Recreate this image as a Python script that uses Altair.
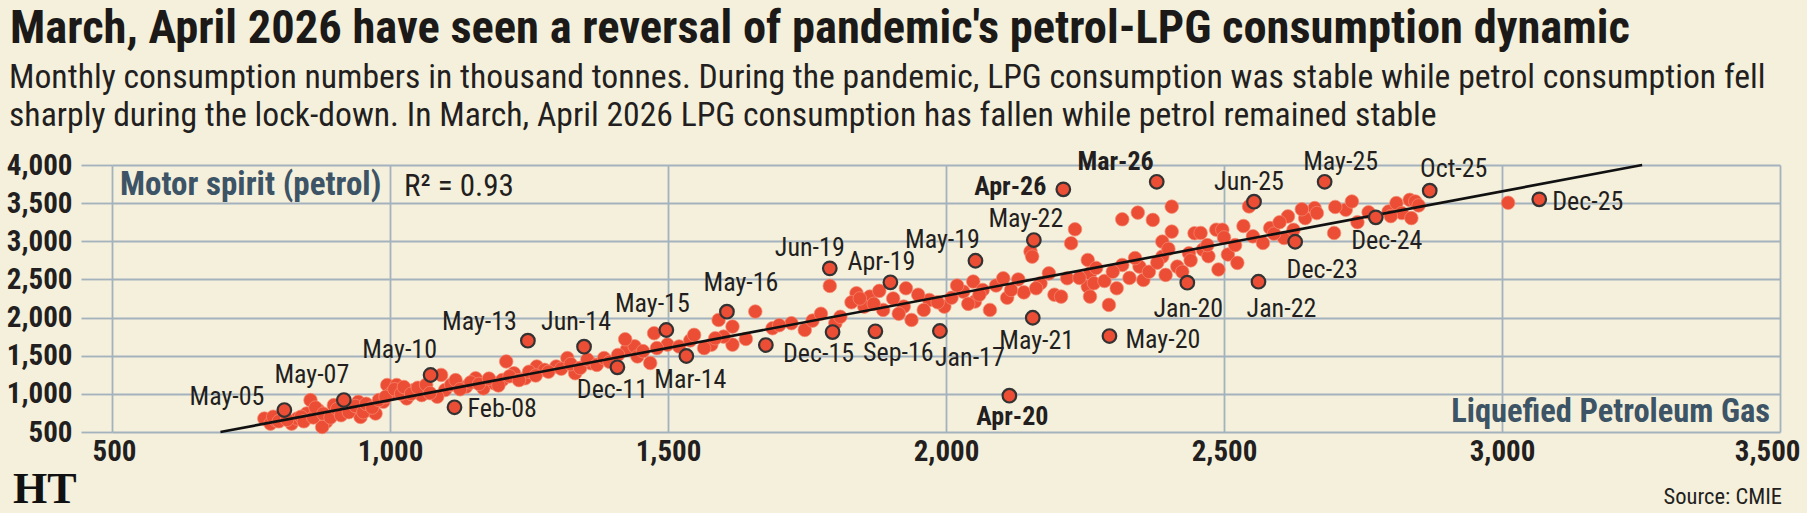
import altair as alt
import pandas as pd

FONT = "Roboto Condensed, sans-serif"
BG = "#f4f0dc"
GRID = "#a3b2bd"
RED = "#ec4d35"
INK = "#231f20"
SLATE = "#3d5466"

# Monthly consumption, thousand tonnes: LPG (x) against motor spirit / petrol (y)
lpg = [
    # 2005-2013 band
    774, 785, 795, 809, 823, 833, 857, 850, 871, 885, 878, 899, 919, 933, 947, 961,
    943, 974, 988, 995, 1002, 1012, 1030, 1043, 1057, 1092, 1099, 1085, 1137, 1154,
    1168, 1188, 1209, 1202, 1223, 1243, 1264, 1278, 1299, 1319, 1333, 1361,
    790, 800, 815, 840, 845, 862, 866, 880, 893, 905, 912, 926, 938, 952, 957, 968,
    980, 992, 1008, 1020, 1025, 1038, 1050, 1065, 1072, 1110, 1118, 1126, 1145, 1160,
    1178, 1195, 1215, 1232, 1250, 1262, 1285, 1308, 1325, 1342, 1355, 1372,
    # 2013-2017
    1385, 1426, 1440, 1468, 1499, 1578, 1616, 1395, 1410, 1445, 1455, 1480, 1520,
    1540, 1565, 1600, 1640,
    1423, 1475, 1547, 1585, 1591, 1616, 1657, 1688, 1722, 1746, 1791, 1801, 1839,
    1863, 1853, 1887, 1928, 1924, 1938, 1970, 1997, 2031, 2049, 2052, 2066, 2079,
    1700, 1760, 1775, 1810, 1830, 1845, 1870, 1880, 1905, 1915, 1950, 1960, 1985,
    2010, 2020, 2040, 2060, 2090, 2110, 2130, 2140, 2170, 2185, 2195,
    # 2018 onwards
    2103, 2117, 2152, 2155, 2162, 2207, 2218, 2225, 2232, 2255, 2259, 2255, 2266,
    2259, 2293, 2307, 2317, 2345, 2372, 2317, 2348, 2355, 2389, 2389, 2395, 2406,
    2406, 2416, 2437, 2447, 2240, 2270, 2285, 2300, 2330, 2340, 2365, 2380, 2400,
    2425, 2440,
    2458, 2486, 2497, 2462, 2472, 2490, 2507, 2524, 2545, 2552, 2570, 2583, 2608,
    2615, 2646, 2663, 2667, 2698, 2719, 2730, 2796, 2810, 2820, 2834, 2837, 2844,
    2470, 2500, 2520, 2535, 2590, 2600, 2625, 2640, 2700, 2740, 2760, 2800, 2850,
    3011,
]
petrol = [
    676, 610, 654, 698, 610, 676, 918, 742, 786, 632, 566, 852, 764, 808, 698, 786,
    896, 742, 896, 1116, 1006, 1116, 940, 1050, 984, 1248, 1050, 962, 1094, 1204,
    1072, 1138, 1425, 1182, 1270, 1204, 1358, 1314, 1358, 1469, 1270, 1402,
    700, 640, 660, 700, 640, 690, 820, 740, 690, 800, 720, 760, 840, 760, 870, 820,
    920, 960, 1060, 1000, 1090, 1000, 1080, 1120, 1010, 1120, 1180, 1060, 1150, 1130,
    1200, 1110, 1230, 1180, 1290, 1240, 1290, 1330, 1390, 1340, 1450, 1380,
    1469, 1579, 1623, 1404, 1645, 1645, 1645, 1420, 1510, 1490, 1560, 1600, 1620,
    1700, 1600, 1750, 1720,
    1716, 1795, 1773, 1729, 1969, 1882, 2079, 1860, 1926, 1838, 2415, 1926, 2319,
    2275, 2144, 2100, 2384, 2144, 1969, 2231, 2144, 2340, 2472, 2210, 2362, 2100,
    1900, 1960, 2050, 2010, 2200, 2250, 2180, 2350, 2250, 2050, 2300, 2100, 2200,
    2260, 2420, 2180, 2300, 2420, 2260, 2500, 2330, 2450, 2580, 2300,
    2515, 2362, 2865, 2799, 2384, 2275, 2515, 2974, 3157, 2755, 2581, 2406, 2450,
    2275, 2166, 2384, 3288, 3376, 3280, 2690, 2668, 2493, 2996, 2799, 2559, 3454,
    3127, 2668, 2843, 3105, 2520, 2650, 2480, 2600, 2520, 2780, 2600, 2720, 2900,
    2600, 2750,
    3109, 3152, 3152, 2891, 2804, 2630, 2826, 2717, 3457, 3065, 2978, 3174, 3043,
    3326, 3304, 3435, 3370, 3109, 3413, 3522, 3391, 3500, 3370, 3543, 3304, 3522,
    2950, 3050, 2950, 3200, 3100, 3250, 3150, 3420, 3450, 3250, 3380, 3330, 3470,
    3505,
]

# Highlighted months
marked_month = [
    "May-05", "May-07", "May-10", "Feb-08", "May-13", "Jun-14", "Dec-11", "Mar-14",
    "May-15", "May-16", "Dec-15", "Sep-16", "Jan-17", "Jun-19", "Apr-19", "May-19",
    "May-22", "Apr-26", "Mar-26", "May-21", "May-20", "Apr-20", "Jan-20", "Jun-25",
    "May-25", "Oct-25", "Dec-25", "Dec-24", "Dec-23", "Jan-22", "",
]
marked_lpg = [
    810, 917, 1073, 1116, 1248, 1349, 1409, 1533,
    1497, 1606, 1796, 1873, 1989, 1791, 1900, 2053,
    2158, 2211, 2379, 2156, 2294, 2114, 2434, 2554,
    2681, 2870, 3067, 2773, 2628, 2562, 1676,
]
marked_petrol = [
    788, 919, 1247, 824, 1697, 1618, 1348, 1496,
    1837, 2077, 1810, 1820, 1824, 2645, 2462, 2745,
    3016, 3681, 3780, 1998, 1758, 976, 2457, 3519,
    3780, 3663, 3550, 3314, 2994, 2470, 1640,
]
bold_months = ["Apr-26", "Mar-26", "Apr-20"]

# label placement around each highlighted dot: (dx, dy, align)
label_place = {
    "May-05": (-20, -5, "right"), "May-07": (-32, -17, "center"),
    "May-10": (-31, -17, "center"), "Feb-08": (13, 10, "left"),
    "May-13": (-11, -11, "right"), "Jun-14": (-8, -17, "center"),
    "Dec-11": (-5, 31, "center"), "Mar-14": (4, 32, "center"),
    "May-15": (-14, -18, "center"), "May-16": (14, -21, "center"),
    "Dec-15": (-14, 30, "center"), "Sep-16": (23, 30, "center"),
    "Jan-17": (30, 35, "center"), "Jun-19": (-20, -12, "center"),
    "Apr-19": (-9, -12, "center"), "May-19": (-33, -13, "center"),
    "May-22": (-8, -13, "center"), "Apr-26": (-17, 6, "right"),
    "Mar-26": (-3, -12, "right"), "May-21": (4, 31, "center"),
    "May-20": (16, 12, "left"), "Apr-20": (3, 29, "center"),
    "Jan-20": (1, 34, "center"), "Jun-25": (-5, -12, "center"),
    "May-25": (16, -12, "center"), "Oct-25": (24, -14, "center"),
    "Dec-25": (13, 11, "left"), "Dec-24": (11, 32, "center"),
    "Dec-23": (27, 36, "center"), "Jan-22": (23, 35, "center"),
}

# least-squares trend line end points
trend_lpg = [695, 3252]
trend_petrol = [500, 4000]

x_ticks = [500, 1000, 1500, 2000, 2500, 3000, 3500]
y_ticks = [500, 1000, 1500, 2000, 2500, 3000, 3500, 4000]

title_text = "March, April 2026 have seen a reversal of pandemic's petrol-LPG consumption dynamic"
subtitle_lines = [
    "Monthly consumption numbers in thousand tonnes. During the pandemic, LPG consumption was stable while petrol consumption fell",
    "sharply during the lock-down. In March, April 2026 LPG consumption has fallen while petrol remained stable",
]

W, H = 1668, 267

x_scale = alt.Scale(domain=[500, 3500], nice=False, zero=False)
y_scale = alt.Scale(domain=[500, 4000], nice=False, zero=False)

x_axis = alt.Axis(
    values=x_ticks, format=",.0f", title=None, grid=True, gridColor=GRID, gridWidth=1.8,
    ticks=False, domain=False, labelFont=FONT, labelFontSize=29, labelFontWeight="bold",
    labelColor=INK, labelPadding=5, labelFlush=True, labelFlushOffset=20,
    labelOverlap=False,
)
y_axis = alt.Axis(
    values=y_ticks, format=",.0f", title=None, grid=True, gridColor=GRID, gridWidth=1.8,
    ticks=True, tickSize=31, tickColor=GRID, tickWidth=1.8, domain=False,
    labelFont=FONT, labelFontSize=29, labelFontWeight="bold", labelColor=INK,
    labelPadding=9, labelFlush=False, labelOverlap=False, labelBound=False,
)

cloud = pd.DataFrame({"lpg": lpg, "petrol": petrol})
marked = pd.DataFrame({"month": marked_month, "lpg": marked_lpg, "petrol": marked_petrol})
trend = pd.DataFrame({"lpg": trend_lpg, "petrol": trend_petrol})

# one shared encoding (same axes) for every layer
X = alt.X("lpg:Q", scale=x_scale, axis=x_axis)
Y = alt.Y("petrol:Q", scale=y_scale, axis=y_axis)

dots = alt.Chart(cloud).mark_circle(
    size=185, color=RED, opacity=1, stroke="#f58d72", strokeWidth=0.7
).encode(x=X, y=Y)

line = alt.Chart(trend).mark_line(color="#111111", strokeWidth=2.6).encode(x=X, y=Y)

marked_dots = alt.Chart(marked).mark_circle(
    size=185, color=RED, opacity=1, stroke="#333333", strokeWidth=2.2
).encode(x=X, y=Y)

layers = [dots, line, marked_dots]

for m, (dx, dy, align) in label_place.items():
    row = marked[marked["month"] == m]
    layers.append(
        alt.Chart(row).mark_text(
            dx=dx, dy=dy, align=align, baseline="alphabetic", font=FONT, fontSize=26,
            fontWeight="bold" if m in bold_months else "normal", color=INK,
        ).encode(x=X, y=Y, text="month:N")
    )


def note(text, x, y, size, weight="normal", color=INK, align="left", font=FONT):
    return alt.Chart(pd.DataFrame({"t": [text]})).mark_text(
        align=align, baseline="alphabetic", font=font, fontSize=size,
        fontWeight=weight, color=color,
    ).encode(x=alt.value(x), y=alt.value(y), text="t:N")


layers += [
    note(title_text, -102, -122, 46.5, "bold", "#1b1a18"),
    note(subtitle_lines[0], -103, -77, 33.7, "normal", "#231f20"),
    note(subtitle_lines[1], -103, -39, 33.7, "normal", "#231f20"),
    note("Motor spirit (petrol)", 8, 30, 33, "bold", SLATE),
    note("R² = 0.93", 292, 31, 31),
    note("Liquefied Petroleum Gas", 1658, 257, 32.5, "bold", SLATE, "right"),
    note("Source: CMIE", 1670, 339, 22.5, "normal", INK, "right"),
    note("HT", -99, 338, 44, "bold", "#111111", "left", "Liberation Serif, DejaVu Serif, serif"),
]

chart = alt.layer(*layers).properties(
    width=W, height=H, background=BG,
    autosize=alt.AutoSizeParams(type="none"),
    padding={"left": 112, "top": 165, "right": 1807 - 112 - W, "bottom": 513 - 165 - H},
).configure_view(strokeWidth=0).configure_axis(labelOverlap=False)

chart.save("out.html", embed_options={"renderer": "svg", "actions": False})
